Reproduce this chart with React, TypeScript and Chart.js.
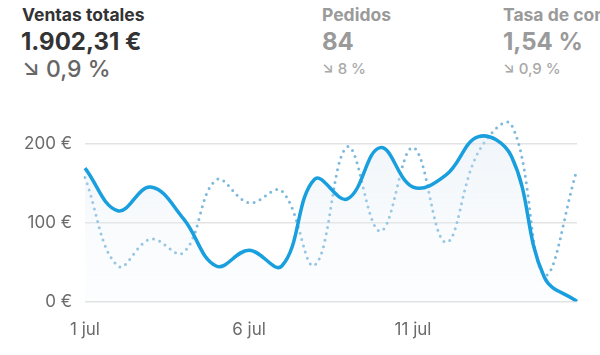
import React, { useEffect, useRef } from "react";
import { Chart, registerables } from "chart.js";

Chart.register(...registerables);

const days = ["1 jul","2 jul","3 jul","4 jul","5 jul","6 jul","7 jul","8 jul","9 jul","10 jul","11 jul","12 jul","13 jul","14 jul","15 jul","16 jul"];
const shownTicks = ["1 jul", "6 jul", "11 jul"];
const ventasActual = [169, 115, 145, 105, 45, 65, 45, 155, 130, 195, 145, 160, 209, 184, 31, 0];
const ventasAnterior = [157, 45, 79, 62, 154, 125, 140, 46, 196, 89, 195, 75, 190, 224, 34, 167];
const yTicks = [0, 100, 200];

const FONT = "Inter, 'Noto Sans', sans-serif";

export default function App() {
  const ref = useRef<HTMLCanvasElement | null>(null);

  useEffect(() => {
    document.body.style.margin = "0";
    const canvas = ref.current;
    if (!canvas) return;
    const chart = new Chart(canvas, {
      type: "line",
      data: {
        labels: days,
        datasets: [
          {
            label: "Actual",
            data: ventasActual,
            borderColor: "#1a9fde",
            borderWidth: 3.5,
            tension: 0.4,
            pointRadius: 0,
            fill: "origin",
            backgroundColor: (ctx: any) => {
              const area = ctx.chart.chartArea;
              if (!area) return "rgba(220,232,242,0.35)";
              const g = ctx.chart.ctx.createLinearGradient(0, area.top, 0, area.bottom);
              g.addColorStop(0, "rgba(214,228,240,0.45)");
              g.addColorStop(1, "rgba(240,245,250,0.15)");
              return g;
            },
            order: 0,
          },
          {
            label: "Anterior",
            data: ventasAnterior,
            borderColor: "#7db9dd",
            borderWidth: 3,
            borderDash: [0, 6.5],
            borderCapStyle: "round",
            tension: 0.4,
            pointRadius: 0,
            fill: false,
            order: 1,
          },
        ],
      },
      options: {
        animation: false,
        responsive: false,
        events: [],
        layout: { padding: { top: 10, right: 23, left: 0, bottom: 0 } },
        plugins: { legend: { display: false }, tooltip: { enabled: false } },
        scales: {
          x: {
            offset: false,
            grid: { display: false, drawTicks: false },
            border: { display: false },
            afterFit: (s: any) => { s.height = 53.5; },
            ticks: {
              autoSkip: false,
              maxRotation: 0,
              padding: 18,
              color: "#6b6b6b",
              font: { family: FONT, size: 17 },
              callback: function (this: any, v: any, i: number) {
                const l = days[i];
                return shownTicks.includes(l) ? l : "";
              },
            },
          },
          y: {
            min: 0,
            max: 250,
            afterFit: (s: any) => { s.width = 85; },
            afterBuildTicks: (s: any) => {
              s.ticks = yTicks.map((v) => ({ value: v }));
            },
            grid: { color: "#e3e3e3", lineWidth: 1.5, drawTicks: false },
            border: { display: false },
            ticks: {
              padding: 13,
              color: "#6b6b6b",
              font: { family: FONT, size: 17 },
              callback: (v: any) => `${v} €`,
            },
          },
        },
      },
    });
    return () => chart.destroy();
  }, []);

  const abs = (left: number, top: number, size: number, weight: number, color: string): React.CSSProperties => ({
    position: "absolute",
    left,
    top,
    fontSize: size,
    fontWeight: weight,
    color,
    lineHeight: 1,
    whiteSpace: "nowrap",
    fontFamily: FONT,
  });

  return (
    <div style={{ position: "fixed", left: 0, top: 0, width: 600, height: 355, overflow: "hidden", background: "#fff" }}>
      <div style={abs(22, 6, 17.5, 700, "#333")}>Ventas totales</div>
      <div style={abs(21, 30, 24, 700, "#333")}>1.902,31 €</div>
      <div style={abs(22, 58, 23, 500, "#666")}>↘ 0,9 %</div>

      <div style={abs(322, 6, 17.5, 700, "#9a9a9a")}>Pedidos</div>
      <div style={abs(322, 30, 24, 700, "#9a9a9a")}>84</div>
      <div style={abs(322, 61, 15, 500, "#a8a8a8")}>↘ 8 %</div>

      <div style={abs(503, 6, 17.5, 700, "#9a9a9a")}>Tasa de conversión</div>
      <div style={abs(503, 30, 24, 700, "#9a9a9a")}>1,54 %</div>
      <div style={abs(503, 61, 15, 500, "#a8a8a8")}>↘ 0,9 %</div>

      <canvas ref={ref} width={600} height={274} style={{ position: "absolute", left: 0, top: 81, width: 600, height: 274 }} />
    </div>
  );
}
